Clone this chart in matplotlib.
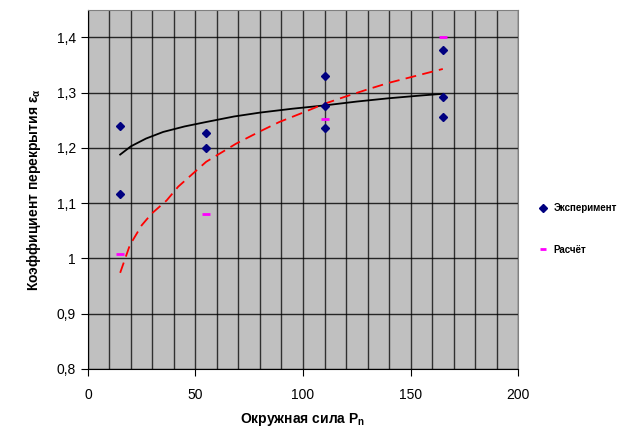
import numpy as np
import matplotlib.pyplot as plt
from matplotlib.ticker import FuncFormatter, MultipleLocator

plt.rcParams['font.family'] = ['Liberation Sans', 'DejaVu Sans']

# — Experiment points —
exp_x = [15, 15, 55, 55, 110, 110, 110, 165, 165, 165]
exp_y = [1.24, 1.117, 1.227, 1.200, 1.330, 1.276, 1.237, 1.378, 1.293, 1.256]

# — Calculated points —
calc_x = [15, 55, 110, 165]
calc_y = [1.008, 1.080, 1.252, 1.400]

trend_x = [15, 20, 27, 35, 45, 55, 68, 80, 95, 110, 125, 140, 155, 165]
trend_y = [1.188, 1.203, 1.217, 1.229, 1.239, 1.247, 1.257, 1.264, 1.271, 1.277, 1.284, 1.290, 1.295, 1.298]

# — Trend line through calculation —
calc_tr_x = [15, 19.5, 25, 29.6, 36.6, 42, 55, 69, 80, 89, 100, 110, 119, 130, 140, 152, 165]
calc_tr_y = [0.974, 1.024, 1.060, 1.081, 1.105, 1.130, 1.175, 1.208, 1.230, 1.247, 1.264, 1.280, 1.292, 1.306, 1.318, 1.330, 1.343]

fig = plt.figure(figsize=(6.19, 4.28), dpi=100)
ax = fig.add_axes([0.142, 0.138, 0.695, 0.839])
ax.set_facecolor('#C0C0C0')

ax.set_xlim(0, 200)
ax.set_ylim(0.8, 1.45)
ax.xaxis.set_major_locator(MultipleLocator(50))
ax.xaxis.set_minor_locator(MultipleLocator(10))
ax.yaxis.set_major_locator(MultipleLocator(0.1))
ax.yaxis.set_major_formatter(FuncFormatter(lambda v, p: ('%g' % round(v, 2)).replace('.', ',')))

ax.grid(True, which='both', axis='x', color='black', lw=1, alpha=0.75)
ax.grid(True, which='major', axis='y', color='black', lw=1, alpha=0.8)
ax.set_axisbelow(True)
ax.tick_params(axis='x', which='minor', length=0)
ax.tick_params(which='major', direction='out', length=5, labelsize=10, color='black')
ax.tick_params(axis='x', which='major', pad=9)

for s in ['top', 'right']:
    ax.spines[s].set_color('#808080')
for s in ['left', 'bottom']:
    ax.spines[s].set_color('black')

ax.plot(trend_x, trend_y, color='black', lw=1.3)
ax.plot(calc_tr_x, calc_tr_y, color='red', lw=1.3, dashes=(6, 3.5))
ax.plot(exp_x, exp_y, 'D', color='#000080', ms=4.5, ls='none', label='Эксперимент')
ax.plot(calc_x, calc_y, '_', color='#FF00FF', ms=5.5, mew=2, ls='none', label='Расчёт')

ax.set_xlabel('Окружная сила P$_\\mathregular{n}$', fontsize=10, fontweight='bold', labelpad=6)
ax.set_ylabel('Коэффициент перекрытия ε$_\\mathregular{α}$', fontsize=10, fontweight='bold', labelpad=10)

leg = fig.legend(loc='center left', bbox_to_anchor=(0.855, 0.465), frameon=False,
                 prop={'weight': 'bold', 'size': 7}, handlelength=1, markerscale=0.85,
                 handletextpad=0.6, labelspacing=3.2)

fig.savefig('out.png', dpi=100)
